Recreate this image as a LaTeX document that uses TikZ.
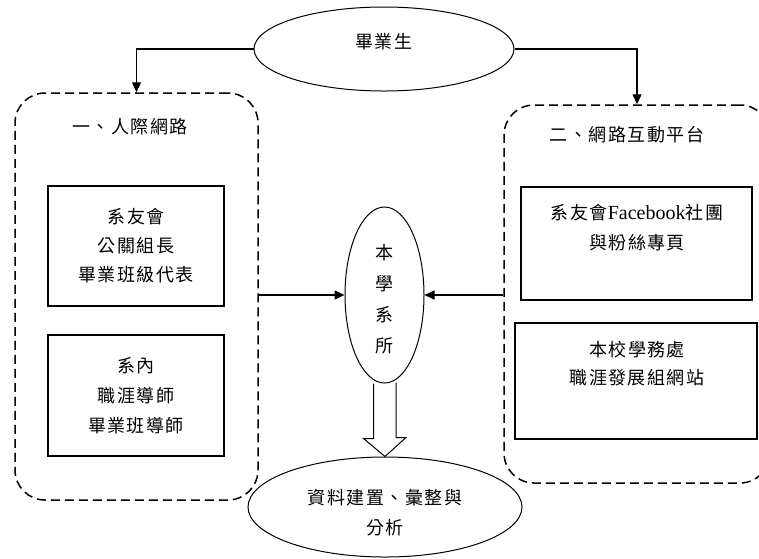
\documentclass[tikz,border=0pt]{standalone}
\usepackage{fontspec}
\setmainfont{Liberation Serif}
\newfontfamily\cjk{Noto Sans CJK TC}[LetterSpace=8]
\newfontfamily\lat{Liberation Serif}
\usetikzlibrary{shapes.geometric,arrows.meta,calc}
\tikzset{
  conn/.style={line width=1.3pt, -{Triangle[length=10pt,width=9pt]}},
  dashbox/.style={draw, line width=1.5pt, dash pattern=on 9pt off 5pt, rounded corners=30pt, inner sep=0pt},
  solidbox/.style={draw, line width=1.2pt, inner sep=0pt},
  oval/.style={draw, ellipse, line width=1pt, inner sep=0pt},
  cjktext/.style={font=\cjk\fontsize{18}{29}\selectfont, align=center, inner sep=0pt},
  blockarrow/.style={line width=1pt, line join=miter}
}
\begin{document}
\begin{tikzpicture}[x=1pt,y=-1pt]
\useasboundingbox (0,0) rectangle (759,558);
% top ellipse
\node[oval, minimum width=260pt, minimum height=84pt] (grad) at (384,49) {};
\node[cjktext] (gradt) at (384,42) {畢業生};
% dashed groups
\node[dashbox, minimum width=243pt, minimum height=407pt] (left) at (136.5,296.5) {};
\node[dashbox, minimum width=266pt, minimum height=378pt] (right) at (637,294) {};
\node[cjktext] (lefttitle) at (130,127) {一、人際網路};
\node[cjktext] (righttitle) at (627,135) {二、網路互動平台};
% left boxes
\node[solidbox, cjktext, minimum width=176pt, minimum height=120pt] (l1) at (136,246) {系友會\\公關組長\\畢業班級代表};
\node[solidbox, cjktext, minimum width=176pt, minimum height=121pt, font=\cjk\fontsize{18}{30}\selectfont] (l2) at (136,395.5) {系內\\職涯導師\\畢業班導師};
% right boxes
\node[solidbox, minimum width=231pt, minimum height=113pt] (r1) at (636.5,243.5) {};
\node[cjktext, font=\cjk\fontsize{18}{30}\selectfont] (r1t) at (637,228) {系友會{\lat\fontsize{20}{30}\selectfont Facebook}社團\\與粉絲專頁};
\node[solidbox, minimum width=242pt, minimum height=116pt] (r2) at (636,381) {};
\node[cjktext, font=\cjk\fontsize{18}{28}\selectfont] (r2t) at (637,364) {本校學務處\\職涯發展組網站};
% center ellipse
\node[oval, minimum width=79pt, minimum height=176pt] (ben) at (384.5,295) {};
\node[cjktext, font=\cjk\fontsize{18}{31}\selectfont] (bent) at (384,299.5) {本\\學\\系\\所};
% bottom ellipse
\node[oval, minimum width=274pt, minimum height=100pt] (res) at (385,507) {};
\node[cjktext, font=\cjk\fontsize{18}{30}\selectfont] (rest) at (385,513) {資料建置、彙整與\\分析};
% connectors
\draw[conn] (grad.west) -| (left.north);
\draw[conn] (grad.east) -| (right.north);
\draw[conn] (left.east |- ben.west) -- (ben.west);
\draw[conn] (right.west |- ben.east) -- (ben.east);
% block arrow
\draw[blockarrow] ($(ben.south)+(-11,0)$) -- ++(0,55) -- ++(-10,0) -- (res.north) -- ++(21,-19) -- ++(-10,0) -- ++(0,-55);
\end{tikzpicture}
\end{document}
